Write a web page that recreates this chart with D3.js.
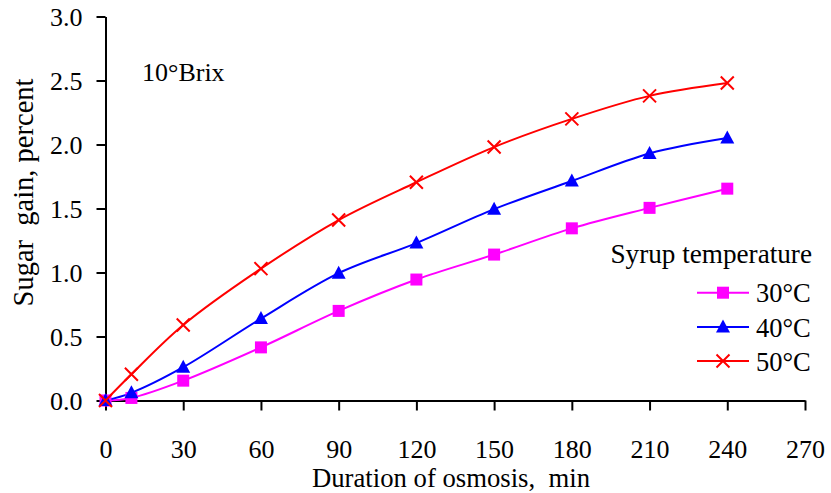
<!DOCTYPE html>
<html>
<head>
<meta charset="utf-8">
<script src="https://cdn.jsdelivr.net/npm/d3@7/dist/d3.min.js"></script>
<style>
  html, body { margin: 0; padding: 0; background: #fff; }
  svg { display: block; }
</style>
</head>
<body>
<svg id="chart" width="831" height="493"></svg>
<script>
// Sugar gain vs. osmosis time at three syrup temperatures (10°Brix)
const times = [0, 10, 30, 60, 90, 120, 150, 180, 210, 240];
const gain30 = [0, 0.02, 0.155, 0.415, 0.70, 0.945, 1.14, 1.345, 1.505, 1.655];
const gain40 = [0, 0.06, 0.26, 0.64, 0.995, 1.23, 1.495, 1.715, 1.93, 2.05];
const gain50 = [0, 0.205, 0.59, 1.03, 1.41, 1.705, 1.98, 2.2, 2.38, 2.48];
const seriesNames = ["30°C", "40°C", "50°C"];
const xTicks = [0, 30, 60, 90, 120, 150, 180, 210, 240, 270];
const yTicks = [0, 0.5, 1.0, 1.5, 2.0, 2.5, 3.0];

const series = [
  { name: seriesNames[0], values: gain30, color: "#FF00FF", marker: "square" },
  { name: seriesNames[1], values: gain40, color: "#0000FF", marker: "triangle" },
  { name: seriesNames[2], values: gain50, color: "#FF0000", marker: "cross" }
];

const FONT = "'Liberation Serif', 'Times New Roman', serif";
const svg = d3.select("#chart");
const x = d3.scaleLinear().domain([0, 270]).range([105.5, 805]);
const y = d3.scaleLinear().domain([0, 3]).range([400.5, 16.5]);

function label(sel, size) {
  return sel.style("font-family", FONT).style("font-size", size + "px").style("fill", "#000").style("white-space", "pre");
}

// axes
const xAxis = svg.append("g").attr("transform", `translate(0,${y(0)})`)
  .call(d3.axisBottom(x).tickValues(xTicks).tickFormat(d3.format("d")).tickSize(10).tickSizeOuter(0));
const yAxis = svg.append("g").attr("transform", `translate(${x(0)},0)`)
  .call(d3.axisLeft(y).tickValues(yTicks).tickFormat(d3.format(".1f")).tickSize(9).tickSizeOuter(0).tickPadding(14));
[xAxis, yAxis].forEach(g => {
  g.select(".domain").attr("stroke", "#000").attr("stroke-width", 2);
  g.selectAll(".tick line").attr("stroke", "#000").attr("stroke-width", 2);
  label(g.selectAll(".tick text"), 26);
});
xAxis.selectAll(".tick text").attr("dy", null).attr("y", 57);
yAxis.selectAll(".tick text").attr("dy", "0.33em");

// axis titles
label(svg.append("text").attr("x", 451).attr("y", 487).attr("text-anchor", "middle"), 26.7)
  .text("Duration of osmosis,  min");
label(svg.append("text").attr("transform", "translate(33,192.5) rotate(-90)").attr("text-anchor", "middle"), 28.5)
  .text("Sugar  gain, percent");

// annotation
label(svg.append("text").attr("x", 142).attr("y", 81), 26).text("10°Brix");

// lines
const line = d3.line().x((d, i) => x(times[i])).y(d => y(d)).curve(d3.curveCatmullRom.alpha(0.5));
const plot = svg.append("g");
series.forEach(s => {
  plot.append("path").attr("d", line(s.values)).attr("fill", "none")
    .attr("stroke", s.color).attr("stroke-width", 2);
});

function drawMarker(g, type, color, cx, cy) {
  if (type === "square") {
    g.append("rect").attr("x", cx - 6).attr("y", cy - 6).attr("width", 12).attr("height", 12).attr("fill", color);
  } else if (type === "triangle") {
    g.append("path").attr("d", `M${cx},${cy - 7.5}L${cx + 7},${cy + 5.5}L${cx - 7},${cy + 5.5}Z`).attr("fill", color);
  } else {
    const r = 6.5;
    g.append("path").attr("d", `M${cx - r},${cy - r}L${cx + r},${cy + r}M${cx - r},${cy + r}L${cx + r},${cy - r}`)
      .attr("stroke", color).attr("stroke-width", 2).attr("fill", "none");
  }
}

series.forEach(s => {
  const g = plot.append("g");
  s.values.forEach((v, i) => drawMarker(g, s.marker, s.color, x(times[i]), y(v)));
});

// legend
label(svg.append("text").attr("x", 812).attr("y", 263).attr("text-anchor", "end"), 27.2).text("Syrup temperature");
const legendY = [292.7, 327, 361];
series.forEach((s, i) => {
  const g = svg.append("g");
  const ly = legendY[i];
  g.append("line").attr("x1", 697).attr("x2", 749).attr("y1", ly).attr("y2", ly)
    .attr("stroke", s.color).attr("stroke-width", 2);
  drawMarker(g, s.marker, s.color, 723, ly);
  label(g.append("text").attr("x", 756).attr("y", ly + 9.5), 26.5).text(s.name);
});
</script>
</body>
</html>
